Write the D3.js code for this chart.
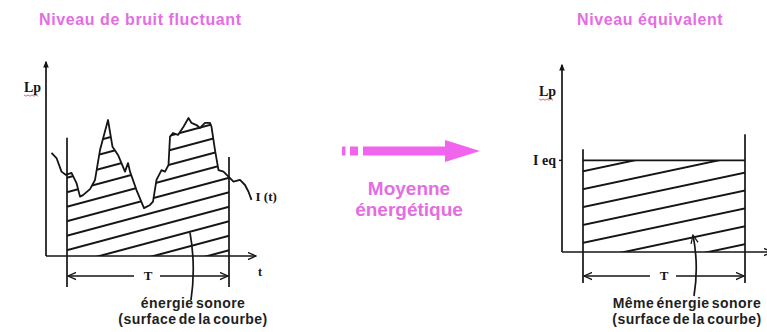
<!DOCTYPE html>
<html>
<head>
<meta charset="utf-8">
<script src="https://cdn.jsdelivr.net/npm/d3@7"></script>
<style>
  body { margin: 0; background: #fff; }
  svg { display: block; }
</style>
</head>
<body>
<div id="chart"></div>
<script>
// fluctuating sound level I(t) (t in arbitrary units, level in % of axis)
const TIME  = [1.1, 2.1, 3.1, 4.0, 5.1, 6.1, 6.8, 7.4, 8.8, 9.8, 10.8, 12.4, 13.3, 14.4, 15.8, 16.4, 16.8,
               18.1, 19.6, 20.8, 21.4, 22.1, 23.1, 23.8, 24.5, 24.8, 25.4, 26.4, 27.5, 28.5, 29.1, 30.1,
               30.8, 31.8, 32.8, 33.1, 33.8, 34.5, 35.5, 36.5, 37.5, 38.8, 39.8, 40.5, 41.1];
const LEVEL = [53.1, 50.5, 43.5, 41.8, 42.8, 37.6, 30.6, 31.4, 34.5, 39.2, 54.6, 70.1, 56.3, 52.1, 43.5, 47.9, 43.5,
               34.0, 24.7, 26.3, 28.0, 39.2, 44.3, 43.5, 46.9, 61.5, 63.4, 62.4, 66.6, 71.1, 68.6, 67.5,
               66.0, 68.6, 68.6, 66.6, 54.6, 44.3, 43.5, 40.9, 38.3, 39.2, 36.6, 33.1, 28.9];
const T_WINDOW = [4.2, 36.6];       // integration period T
const LEQ = 49;                      // equivalent level
const AXIS_MAX = [42, 100];          // t, level
const WINDOW_TOPS = [[61, 51], [55, 63]];   // height of the T markers, left / right panel
const POINTERS = [[28.8, 12], [26.2, 9]];   // where the "énergie" arrows point

const TITLES = ['Niveau de bruit fluctuant', 'Niveau équivalent'];
const MIDDLE_LABEL = ['Moyenne', 'énergétique'];
const NOTES = [['énergie sonore', '(surface de la courbe)'],
               ['Même énergie sonore', '(surface de la courbe)']];

const W = 767, H = 332;
const INK = '#151515';
const PINK = '#e46de2';
const ARROW_PINK = '#f064ee';
const SANS = '"Liberation Sans", Arial, sans-serif';
const SERIF = '"Liberation Serif", "Times New Roman", serif';

const svg = d3.select('#chart').append('svg')
  .attr('width', W).attr('height', H)
  .attr('viewBox', `0 0 ${W} ${H}`);

const defs = svg.append('defs');

function hatch(id, gap, angle) {
  const p = defs.append('pattern')
    .attr('id', id)
    .attr('patternUnits', 'userSpaceOnUse')
    .attr('width', 40).attr('height', gap)
    .attr('patternTransform', `rotate(${-angle})`);
  p.append('line')
    .attr('x1', 0).attr('x2', 40)
    .attr('y1', gap / 2).attr('y2', gap / 2)
    .attr('stroke', INK).attr('stroke-width', 1.8);
}
hatch('hatch-l', 14, 15);
hatch('hatch-r', 17.5, 12);

defs.append('marker')
  .attr('id', 'tip-filled')
  .attr('viewBox', '0 0 10 10').attr('refX', 8).attr('refY', 5)
  .attr('markerWidth', 7).attr('markerHeight', 7).attr('markerUnits', 'userSpaceOnUse')
  .attr('orient', 'auto')
  .append('path').attr('d', 'M0,1 L10,5 L0,9 Z').attr('fill', INK);

defs.append('marker')
  .attr('id', 'tip-open')
  .attr('viewBox', '0 0 10 10').attr('refX', 9).attr('refY', 5)
  .attr('markerWidth', 9).attr('markerHeight', 9).attr('markerUnits', 'userSpaceOnUse')
  .attr('orient', 'auto-start-reverse')
  .append('path').attr('d', 'M0,1 L9,5 L0,9')
  .attr('fill', 'none').attr('stroke', INK).attr('stroke-width', 1.4);

// two panels, same time/level scales, different placement
const panels = [
  { x: d3.scaleLinear().domain([0, AXIS_MAX[0]]).range([46, 256]),
    y: d3.scaleLinear().domain([0, AXIS_MAX[1]]).range([256, 62]),
    titleX: 39, tArrowDy: 20, lpX: 24, lpY: 92, noteX: 193 },
  { x: d3.scaleLinear().domain([0, AXIS_MAX[0]]).range([562, 772]),
    y: d3.scaleLinear().domain([0, AXIS_MAX[1]]).range([252, 65]),
    titleX: 577, tArrowDy: 24, lpX: 539, lpY: 96, noteX: 687 }
];

function drawFrame(g, p, i) {
  const x0 = p.x(0), y0 = p.y(0);

  // axes
  g.append('line')
    .attr('x1', x0).attr('x2', x0)
    .attr('y1', y0).attr('y2', p.y(AXIS_MAX[1]))
    .attr('stroke', INK).attr('stroke-width', 1.7)
    .attr('marker-end', 'url(#tip-filled)');
  g.append('line')
    .attr('x1', x0).attr('x2', p.x(AXIS_MAX[0]))
    .attr('y1', y0).attr('y2', y0)
    .attr('stroke', INK).attr('stroke-width', 1.7)
    .attr('marker-end', 'url(#tip-open)');

  // T markers
  T_WINDOW.forEach((t, k) => {
    g.append('line')
      .attr('x1', p.x(t)).attr('x2', p.x(t))
      .attr('y1', p.y(WINDOW_TOPS[i][k])).attr('y2', y0 + 31)
      .attr('stroke', INK).attr('stroke-width', 1.7);
  });

  // T double arrow with gap for label
  const ay = y0 + p.tArrowDy;
  const xa = p.x(T_WINDOW[0]), xb = p.x(T_WINDOW[1]);
  const xm = (xa + xb) / 2;
  g.append('line')
    .attr('x1', xm - 14).attr('x2', xa + 1)
    .attr('y1', ay).attr('y2', ay)
    .attr('stroke', INK).attr('stroke-width', 1.5)
    .attr('marker-end', 'url(#tip-open)');
  g.append('line')
    .attr('x1', xm + 12).attr('x2', xb - 1)
    .attr('y1', ay).attr('y2', ay)
    .attr('stroke', INK).attr('stroke-width', 1.5)
    .attr('marker-end', 'url(#tip-open)');
  g.append('text')
    .attr('x', xm).attr('y', ay + 4)
    .attr('text-anchor', 'middle')
    .style('font-family', SERIF).style('font-size', '13px').style('font-weight', 'bold')
    .style('fill', INK)
    .text('T');

  // Lp label with red spell-check squiggle
  g.append('text')
    .attr('x', p.lpX).attr('y', p.lpY)
    .style('font-family', SERIF).style('font-size', '14px').style('font-weight', 'bold')
    .style('fill', INK)
    .text('Lp');
  const sq = d3.range(0, 8).map(k => [p.lpX + k * 2, p.lpY + 3 + (k % 2 ? 1.2 : 0)]);
  g.append('path')
    .attr('d', d3.line()(sq))
    .attr('fill', 'none').attr('stroke', '#e04040').attr('stroke-width', 0.8);

  // title
  g.append('text')
    .attr('x', p.titleX).attr('y', 25)
    .style('font-family', SANS).style('font-size', '16px').style('font-weight', 'bold')
    .style('letter-spacing', '0.6px')
    .style('fill', PINK)
    .text(TITLES[i]);

  // pointer arrow + note
  const [pt, pl] = POINTERS[i];
  const px = p.x(pt), py = p.y(pl);
  g.append('path')
    .attr('d', `M${px + 1},${y0 + 44} Q${px + 6},${(py + y0 + 44) / 2} ${px},${py}`)
    .attr('fill', 'none').attr('stroke', INK).attr('stroke-width', 1.7)
    .attr('marker-end', i === 1 ? 'url(#tip-open)' : null);

  NOTES[i].forEach((line, k) => {
    g.append('text')
      .attr('x', p.noteX).attr('y', 308 + k * 16)
      .attr('text-anchor', 'middle')
      .style('font-family', SANS).style('font-size', '14px').style('font-weight', 'bold')
      .style('letter-spacing', '0.45px')
      .style('word-spacing', '-2px')
      .style('fill', '#1e1e1e')
      .text(line);
  });
}

// ---- left panel: fluctuating level
const pL = panels[0];
const gL = svg.append('g');
const series = TIME.map((t, k) => ({ t, level: LEVEL[k] }));

defs.append('clipPath').attr('id', 'clip-window')
  .append('rect')
  .attr('x', pL.x(T_WINDOW[0])).attr('width', pL.x(T_WINDOW[1]) - pL.x(T_WINDOW[0]))
  .attr('y', 0).attr('height', H);

gL.append('g')
  .attr('clip-path', 'url(#clip-window)')
  .append('path')
  .datum(series)
  .attr('fill', 'url(#hatch-l)')
  .attr('d', d3.area()
    .x(d => pL.x(d.t))
    .y0(pL.y(0))
    .y1(d => pL.y(d.level)));

gL.append('path')
  .datum(series)
  .attr('fill', 'none')
  .attr('stroke', INK).attr('stroke-width', 1.8)
  .attr('stroke-linejoin', 'round')
  .attr('d', d3.line().x(d => pL.x(d.t)).y(d => pL.y(d.level)));

drawFrame(gL, pL, 0);

const last = series[series.length - 1];
gL.append('text')
  .attr('x', pL.x(last.t) + 4).attr('y', pL.y(last.level) + 1)
  .style('font-family', SERIF).style('font-size', '13px').style('font-weight', 'bold')
  .style('fill', INK)
  .text('I (t)');
gL.append('text')
  .attr('x', pL.x(AXIS_MAX[0]) + 2).attr('y', pL.y(0) + 20)
  .style('font-family', SERIF).style('font-size', '12px').style('font-weight', 'bold')
  .style('fill', INK)
  .text('t');

// ---- right panel: equivalent level
const pR = panels[1];
const gR = svg.append('g');

gR.append('rect')
  .attr('x', pR.x(T_WINDOW[0]))
  .attr('width', pR.x(T_WINDOW[1]) - pR.x(T_WINDOW[0]))
  .attr('y', pR.y(LEQ))
  .attr('height', pR.y(0) - pR.y(LEQ))
  .attr('fill', 'url(#hatch-r)');

gR.append('line')
  .attr('x1', pR.x(T_WINDOW[0])).attr('x2', pR.x(T_WINDOW[1]))
  .attr('y1', pR.y(LEQ)).attr('y2', pR.y(LEQ))
  .attr('stroke', INK).attr('stroke-width', 1.8);

drawFrame(gR, pR, 1);

gR.append('line')
  .attr('x1', pR.x(0) - 3).attr('x2', pR.x(0))
  .attr('y1', pR.y(LEQ)).attr('y2', pR.y(LEQ))
  .attr('stroke', INK).attr('stroke-width', 1.4);
gR.append('text')
  .attr('x', pR.x(0) - 6).attr('y', pR.y(LEQ) + 5)
  .attr('text-anchor', 'end')
  .style('font-family', SERIF).style('font-size', '14px').style('font-weight', 'bold')
  .style('fill', INK)
  .text('I eq');

// ---- middle arrow
const mid = svg.append('g').attr('fill', ARROW_PINK);
const ay = 151;
mid.append('rect').attr('x', 342).attr('y', ay - 4.5).attr('width', 3.5).attr('height', 9);
mid.append('rect').attr('x', 350).attr('y', ay - 4.5).attr('width', 8).attr('height', 9);
mid.append('path')
  .attr('d', `M363,${ay - 4.5} L445,${ay - 4.5} L445,${ay - 11} L480,${ay} L445,${ay + 11} L445,${ay + 4.5} L363,${ay + 4.5} Z`);

MIDDLE_LABEL.forEach((line, k) => {
  svg.append('text')
    .attr('x', 409).attr('y', 195 + k * 21)
    .attr('text-anchor', 'middle')
    .style('font-family', SANS).style('font-size', '19px').style('font-weight', 'bold')
    .style('fill', PINK)
    .text(line);
});
</script>
</body>
</html>
